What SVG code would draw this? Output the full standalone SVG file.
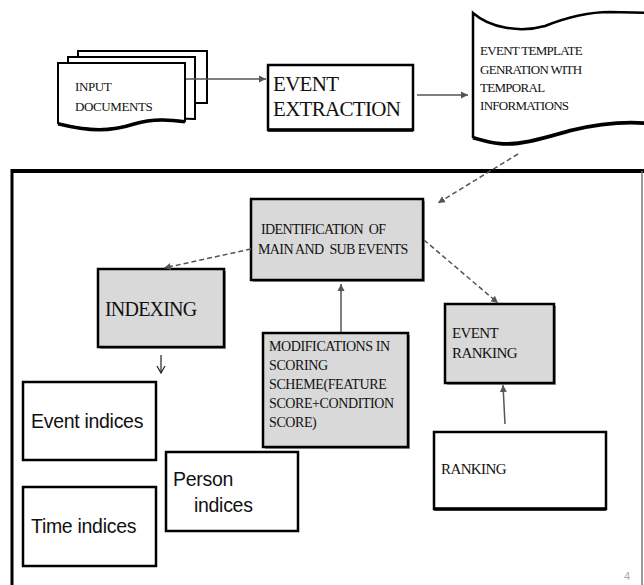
<svg xmlns="http://www.w3.org/2000/svg" width="644" height="585" viewBox="0 0 644 585">
<style>
.serif{font-family:'Liberation Serif','DejaVu Serif',serif;fill:#111;white-space:pre}
.sans{font-family:'Liberation Sans',Arial,sans-serif;fill:#111}
.box{stroke:#000;stroke-width:2.5}
.gray{fill:#d9d9d9}
.white{fill:#fff}
.shadow{fill:#9a9a9a}
.solid{stroke:#555;stroke-width:1.5;fill:none}
.dash{stroke:#555;stroke-width:1.5;fill:none;stroke-dasharray:5 3}
</style>
<defs>
<marker id="ah" markerWidth="8" markerHeight="8" refX="7" refY="4" orient="auto" markerUnits="userSpaceOnUse">
<path d="M0,0.5 L7,4 L0,7.5 z" fill="#555"/>
</marker>
<marker id="ao" markerWidth="10" markerHeight="10" refX="8" refY="5" orient="auto" markerUnits="userSpaceOnUse">
<path d="M1,1 L8,5 L1,9" fill="none" stroke="#222" stroke-width="1.2"/>
</marker>
</defs>
<rect width="644" height="585" fill="#fff"/>

<g id="frame">
<line x1="12" y1="171" x2="644" y2="171" stroke="#000" stroke-width="4"/>
<line x1="12" y1="169" x2="12" y2="585" stroke="#000" stroke-width="3"/>
<line x1="642" y1="171" x2="642" y2="585" stroke="#777" stroke-width="1.5"/>
<text x="624" y="580" font-family="Liberation Sans,sans-serif" font-size="11" fill="#aaa">4</text>
</g>

<g id="input-documents">
<rect x="78" y="51" width="129" height="52" fill="#fff" stroke="#000" stroke-width="2"/>
<path d="M68,57 H195 V119 C180,118 170,118 160,120 L150,121 L68,121 Z" fill="#fff" stroke="#000" stroke-width="2"/>
<path d="M58,63 H185 V121 C165,118 150,118 135,123 C110,131 90,131 58,123 Z" fill="#fff" stroke="#000" stroke-width="2"/>
<path d="M58,124 C90,132 110,132 135,124 C150,119 165,119 185,122" fill="none" stroke="#000" stroke-width="3"/>
<text class="serif" font-family="Liberation Serif, serif" x="75" y="91" font-size="13" letter-spacing="-0.4">INPUT</text>
<text class="serif" font-family="Liberation Serif, serif" x="75" y="111" font-size="13" letter-spacing="-0.4">DOCUMENTS</text>
</g>

<g id="event-extraction">
<rect class="box white" x="268" y="65" width="145" height="65"/>
<line x1="268" y1="130" x2="413" y2="130" stroke="#000" stroke-width="3.5"/>
<text class="serif" font-family="Liberation Serif, serif" x="273" y="91" font-size="21" letter-spacing="-0.7">EVENT</text>
<text class="serif" font-family="Liberation Serif, serif" x="273" y="116" font-size="21" letter-spacing="-0.7">EXTRACTION</text>
</g>

<g id="event-template">
<path d="M473,13 C490,28 520,33 545,26 C565,18 585,12 610,12 L650,13 L650,123 C620,120 595,124 570,130 C545,137 520,145 500,143 C488,142 480,139 473,137 Z" fill="#fff" stroke="#000" stroke-width="2.5"/>
<path d="M473,138 C480,140 488,143 500,144 C520,146 545,138 570,131 C595,125 620,121 650,124" fill="none" stroke="#000" stroke-width="3"/>
<text class="serif" font-family="Liberation Serif, serif" x="480" y="55" font-size="13" letter-spacing="-0.7">EVENT TEMPLATE</text>
<text class="serif" font-family="Liberation Serif, serif" x="480" y="74" font-size="13" letter-spacing="-0.7">GENRATION WITH</text>
<text class="serif" font-family="Liberation Serif, serif" x="480" y="92" font-size="13" letter-spacing="-0.7">TEMPORAL</text>
<text class="serif" font-family="Liberation Serif, serif" x="480" y="110" font-size="13" letter-spacing="-0.7">INFORMATIONS</text>
</g>

<g id="identification">
<rect class="shadow" x="253" y="201" width="172" height="81"/>
<rect class="box gray" x="251" y="199" width="172" height="81"/>
<text class="serif" font-family="Liberation Serif, serif" x="261" y="234" font-size="14" letter-spacing="-0.6">IDENTIFICATION  OF</text>
<text class="serif" font-family="Liberation Serif, serif" x="258" y="254" font-size="14" letter-spacing="-0.6">MAIN AND  SUB EVENTS</text>
</g>

<g id="indexing">
<rect class="shadow" x="100" y="271" width="126" height="78"/>
<rect class="box gray" x="98" y="269" width="126" height="78"/>
<text class="serif" font-family="Liberation Serif, serif" x="105" y="316" font-size="20" letter-spacing="-0.8">INDEXING</text>
</g>

<g id="modifications">
<rect class="shadow" x="265" y="335" width="145" height="114"/>
<rect class="box gray" x="263" y="333" width="145" height="114"/>
<text class="serif" font-family="Liberation Serif, serif" x="269" y="351" font-size="14" letter-spacing="-0.4">MODIFICATIONS IN</text>
<text class="serif" font-family="Liberation Serif, serif" x="269" y="370" font-size="14" letter-spacing="-0.4">SCORING</text>
<text class="serif" font-family="Liberation Serif, serif" x="269" y="389" font-size="14" letter-spacing="-0.4">SCHEME(FEATURE</text>
<text class="serif" font-family="Liberation Serif, serif" x="269" y="408" font-size="14" letter-spacing="-0.4">SCORE+CONDITION</text>
<text class="serif" font-family="Liberation Serif, serif" x="269" y="427" font-size="14" letter-spacing="-0.4">SCORE)</text>
</g>

<g id="event-ranking">
<rect class="shadow" x="447" y="306" width="109" height="79"/>
<rect class="box gray" x="445" y="304" width="109" height="79"/>
<text class="serif" font-family="Liberation Serif, serif" x="452" y="338" font-size="15" letter-spacing="-0.6">EVENT</text>
<text class="serif" font-family="Liberation Serif, serif" x="452" y="358" font-size="15" letter-spacing="-0.6">RANKING</text>
</g>

<g id="ranking">
<rect class="box white" x="434" y="432" width="172" height="77"/>
<line x1="434" y1="509" x2="606" y2="509" stroke="#000" stroke-width="3.5"/>
<text class="serif" font-family="Liberation Serif, serif" x="441" y="474" font-size="15" letter-spacing="-0.6">RANKING</text>
</g>

<g id="event-indices">
<rect class="box white" x="23" y="382" width="133" height="78" stroke-width="2"/>
<text class="sans" x="31" y="428" font-size="19.5" letter-spacing="-0.3">Event indices</text>
</g>

<g id="person-indices">
<rect class="box white" x="166" y="452" width="132" height="79" stroke-width="2"/>
<text class="sans" x="173" y="486" font-size="19.5" letter-spacing="-0.3">Person</text>
<text class="sans" x="194" y="512" font-size="19.5" letter-spacing="-0.3">indices</text>
</g>

<g id="time-indices">
<rect class="box white" x="23" y="487" width="133" height="79" stroke-width="2"/>
<text class="sans" x="31" y="533" font-size="19.5" letter-spacing="-0.3">Time indices</text>
</g>

<g id="connectors">
<line class="solid" x1="186" y1="79" x2="266" y2="79" marker-end="url(#ah)"/>
<line class="solid" x1="417" y1="95" x2="468" y2="95" marker-end="url(#ah)"/>
<line class="dash" x1="518" y1="154" x2="438" y2="203" marker-end="url(#ah)"/>
<line class="dash" x1="251" y1="249" x2="164" y2="268" marker-end="url(#ah)"/>
<line class="dash" x1="424" y1="240" x2="498" y2="303" marker-end="url(#ah)"/>
<line class="solid" x1="341" y1="332" x2="341" y2="284" marker-end="url(#ah)"/>
<line class="solid" x1="505" y1="424" x2="503" y2="385" marker-end="url(#ah)"/>
<line x1="161" y1="355" x2="161" y2="373" stroke="#222" stroke-width="1.2" marker-end="url(#ao)"/>
</g>
</svg>
